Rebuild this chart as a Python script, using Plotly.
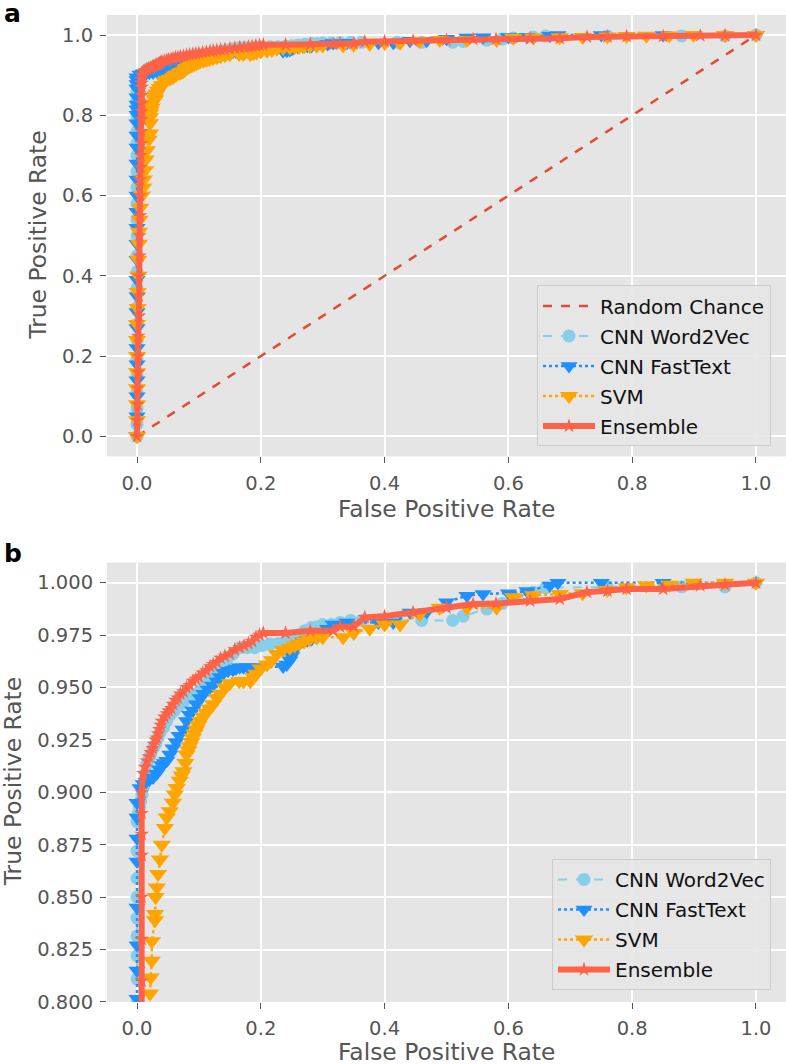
import plotly.graph_objects as go

# ---------------- data ----------------
rc_fpr = [0.0, 1.0]
rc_tpr = [0.0, 1.0]

w2v_points = [(0, 0), (0, 0.03), (0, 0.07), (0, 0.11), (0, 0.15), (0, 0.19), (0, 0.24), (0, 0.28), (0, 0.32),
              (0, 0.37), (0, 0.41), (0, 0.45), (0, 0.50), (0, 0.54), (0, 0.58), (0, 0.62), (0, 0.66), (0, 0.70),
              (0, 0.73), (0, 0.76), (0, 0.79), (0, 0.80), (0, 0.811), (0, 0.822), (0, 0.8315), (0, 0.840),
              (0, 0.850), (0, 0.859), (0, 0.872), (0, 0.886), (0.002, 0.890), (0.004, 0.893), (0.006, 0.896),
              (0.008, 0.899), (0.010, 0.902), (0.012, 0.905), (0.014, 0.909), (0.016, 0.9135), (0.019, 0.916),
              (0.022, 0.918), (0.026, 0.921), (0.030, 0.923), (0.034, 0.926), (0.038, 0.929), (0.043, 0.931),
              (0.048, 0.934), (0.054, 0.937), (0.060, 0.939), (0.067, 0.941), (0.075, 0.943), (0.082, 0.945),
              (0.090, 0.946), (0.096, 0.947), (0.102, 0.9484), (0.108, 0.951), (0.115, 0.953), (0.122, 0.955),
              (0.130, 0.958), (0.138, 0.960), (0.145, 0.9628), (0.155, 0.966), (0.166, 0.969), (0.178, 0.969),
              (0.190, 0.969), (0.202, 0.970), (0.215, 0.9707), (0.228, 0.971), (0.240, 0.972), (0.250, 0.9735),
              (0.260, 0.975), (0.271, 0.977), (0.282, 0.9787), (0.291, 0.979), (0.300, 0.980), (0.314, 0.980),
              (0.328, 0.981), (0.345, 0.982), (0.363, 0.982), (0.420, 0.982), (0.460, 0.982), (0.510, 0.982),
              (0.527, 0.984), (0.565, 0.9874), (0.590, 0.990), (0.608, 0.993), (0.640, 0.9954), (0.660, 0.9975),
              (0.760, 0.998), (0.880, 0.998), (0.950, 0.998), (1.0, 1.0)]

fasttext_points = [(0, 0), (0, 0.05), (0, 0.10), (0, 0.14), (0, 0.18), (0, 0.22), (0, 0.27), (0, 0.31), (0, 0.35),
                   (0, 0.39), (0, 0.44), (0, 0.48), (0, 0.52), (0, 0.56), (0, 0.60), (0, 0.64), (0, 0.68),
                   (0, 0.72), (0, 0.75), (0, 0.78), (0, 0.8015), (0, 0.815), (0, 0.827), (0, 0.845), (0, 0.867),
                   (0, 0.878), (0, 0.888), (0, 0.895), (0.005, 0.902), (0.010, 0.904), (0.015, 0.905),
                   (0.020, 0.906), (0.026, 0.907), (0.032, 0.909), (0.036, 0.911), (0.040, 0.913), (0.044, 0.914),
                   (0.048, 0.915), (0.053, 0.918), (0.058, 0.921), (0.063, 0.924), (0.068, 0.927), (0.074, 0.930),
                   (0.080, 0.934), (0.085, 0.937), (0.090, 0.939), (0.096, 0.942), (0.102, 0.945), (0.108, 0.947),
                   (0.115, 0.949), (0.122, 0.951), (0.129, 0.953), (0.134, 0.955), (0.140, 0.957), (0.147, 0.958),
                   (0.155, 0.9585), (0.160, 0.959), (0.166, 0.9596), (0.172, 0.9596), (0.179, 0.9596),
                   (0.190, 0.9596), (0.200, 0.9596), (0.236, 0.9600), (0.242, 0.961), (0.247, 0.963),
                   (0.250, 0.965), (0.253, 0.9675), (0.260, 0.970), (0.268, 0.972), (0.275, 0.9725), (0.282, 0.973),
                   (0.291, 0.974), (0.300, 0.975), (0.308, 0.978), (0.317, 0.980), (0.339, 0.981), (0.390, 0.981),
                   (0.414, 0.981), (0.441, 0.9858), (0.468, 0.986), (0.500, 0.9906), (0.533, 0.9938),
                   (0.559, 0.9946), (0.600, 0.995), (0.630, 0.996), (0.667, 0.9986), (0.680, 1.0), (0.750, 1.0),
                   (0.850, 1.0), (0.950, 1.0), (1.0, 1.0)]

svm_points = [(0, 0), (0, 0.04), (0, 0.08), (0, 0.12), (0, 0.16), (0, 0.20), (0, 0.24), (0, 0.28), (0.001, 0.32),
              (0.001, 0.36), (0.002, 0.40), (0.002, 0.44), (0.003, 0.48), (0.003, 0.51), (0.004, 0.54),
              (0.005, 0.57), (0.008, 0.60), (0.010, 0.62), (0.011, 0.64), (0.013, 0.663), (0.014, 0.69),
              (0.016, 0.713), (0.019, 0.74), (0.021, 0.755), (0.021, 0.78), (0.021, 0.795), (0.021, 0.804),
              (0.022, 0.8116), (0.0237, 0.8196), (0.024, 0.829), (0.029, 0.839), (0.029, 0.842), (0.030, 0.850),
              (0.032, 0.8546), (0.034, 0.861), (0.037, 0.868), (0.040, 0.875), (0.045, 0.883), (0.048, 0.888),
              (0.053, 0.891), (0.058, 0.895), (0.061, 0.899), (0.064, 0.902), (0.069, 0.9055), (0.072, 0.908),
              (0.075, 0.910), (0.078, 0.914), (0.080, 0.918), (0.083, 0.920), (0.085, 0.922), (0.088, 0.924),
              (0.090, 0.926), (0.093, 0.928), (0.096, 0.930), (0.099, 0.932), (0.102, 0.934), (0.107, 0.936),
              (0.112, 0.938), (0.117, 0.940), (0.123, 0.942), (0.129, 0.945), (0.135, 0.947), (0.142, 0.950),
              (0.150, 0.952), (0.165, 0.953), (0.172, 0.953), (0.183, 0.953), (0.188, 0.955), (0.193, 0.9565),
              (0.200, 0.959), (0.210, 0.961), (0.218, 0.963), (0.226, 0.966), (0.236, 0.968), (0.247, 0.969),
              (0.255, 0.970), (0.262, 0.971), (0.270, 0.972), (0.279, 0.973), (0.290, 0.974), (0.300, 0.974),
              (0.333, 0.974), (0.350, 0.976), (0.376, 0.978), (0.400, 0.980), (0.425, 0.980), (0.457, 0.985),
              (0.489, 0.988), (0.533, 0.988), (0.581, 0.988), (0.608, 0.993), (0.640, 0.994), (0.683, 0.9946),
              (0.720, 0.995), (0.760, 0.9965), (0.791, 0.9978), (0.823, 0.9986), (0.860, 0.999), (0.899, 1.0),
              (0.950, 1.0), (1.0, 1.0)]

ensemble_points = [(0.0, 0.0), (0.0, 0.04), (0.001, 0.08), (0.001, 0.12), (0.002, 0.16), (0.002, 0.20),
                   (0.002, 0.25), (0.003, 0.30), (0.003, 0.35), (0.003, 0.40), (0.004, 0.45), (0.004, 0.50),
                   (0.005, 0.55), (0.005, 0.60), (0.005, 0.64), (0.006, 0.67), (0.006, 0.70), (0.007, 0.73),
                   (0.007, 0.76), (0.0075, 0.79), (0.0075, 0.81), (0.0075, 0.83), (0.0075, 0.85), (0.0075, 0.87),
                   (0.0075, 0.88), (0.0075, 0.89), (0.0075, 0.90), (0.010, 0.909), (0.013, 0.912), (0.016, 0.915),
                   (0.019, 0.917), (0.022, 0.919), (0.025, 0.921), (0.027, 0.923), (0.030, 0.925), (0.032, 0.926),
                   (0.034, 0.928), (0.036, 0.930), (0.038, 0.932), (0.040, 0.934), (0.044, 0.936), (0.048, 0.9375),
                   (0.051, 0.939), (0.055, 0.940), (0.058, 0.942), (0.062, 0.944), (0.066, 0.945), (0.070, 0.947),
                   (0.075, 0.948), (0.080, 0.950), (0.085, 0.951), (0.090, 0.953), (0.095, 0.954), (0.100, 0.955),
                   (0.106, 0.957), (0.112, 0.958), (0.118, 0.960), (0.123, 0.961), (0.129, 0.962), (0.135, 0.964),
                   (0.142, 0.965), (0.150, 0.966), (0.158, 0.968), (0.166, 0.969), (0.173, 0.970), (0.180, 0.971),
                   (0.186, 0.972), (0.192, 0.974), (0.198, 0.975), (0.204, 0.976), (0.240, 0.976), (0.280, 0.977),
                   (0.317, 0.977), (0.328, 0.979), (0.350, 0.979), (0.368, 0.9834), (0.400, 0.984),
                   (0.446, 0.9858), (0.500, 0.988), (0.543, 0.9898), (0.580, 0.990), (0.635, 0.9914),
                   (0.683, 0.9922), (0.727, 0.9954), (0.760, 0.996), (0.791, 0.997), (0.850, 0.997),
                   (0.910, 0.9986), (0.950, 0.999), (1.0, 1.0)]

x_ticks = [0.0, 0.2, 0.4, 0.6, 0.8, 1.0]
ya_ticks = [0.0, 0.2, 0.4, 0.6, 0.8, 1.0]
yb_ticks = [0.800, 0.825, 0.850, 0.875, 0.900, 0.925, 0.950, 0.975, 1.000]

# ---------------- style ----------------
FONT = "DejaVu Sans"
W = 786
H_PIC = 1064          # height of the photographed picture
H_FIG = 1077          # figure height that ends up mapped onto the 1064-px picture
BG = "#E5E5E5"
TXT = "#555555"

models = [
    ("CNN Word2Vec", w2v_points, dict(color="#87CEEB", width=2, dash="dash"), dict(symbol="circle", size=13)),
    ("CNN FastText", fasttext_points, dict(color="#1E90FF", width=2.5, dash="dot"), dict(symbol="triangle-down", size=15)),
    ("SVM", svm_points, dict(color="#FFA500", width=2.5, dash="dot"), dict(symbol="triangle-down", size=16)),
    ("Ensemble", ensemble_points, dict(color="#FF6347", width=6, dash="solid"), dict(symbol="star", size=11)),
]

fig = go.Figure()

fig.add_trace(go.Scatter(x=rc_fpr, y=rc_tpr, mode="lines", name="Random Chance",
                         line=dict(color="#E24A33", width=2.5, dash="dash"),
                         xaxis="x", yaxis="y", legend="legend", legendgroup="a0"))

for panel, (xa, ya, leg) in enumerate([("x", "y", "legend"), ("x2", "y2", "legend2")]):
    for i, (name, pts, line, marker) in enumerate(models):
        pts = sorted(pts)
        fig.add_trace(go.Scatter(
            x=[p[0] for p in pts], y=[p[1] for p in pts], mode="lines+markers", name=name,
            line=line, marker=dict(color=line["color"], line=dict(width=0), **marker),
            xaxis=xa, yaxis=ya, legend=leg, legendgroup=f"{leg}{i}"))

# pixel helpers (positions given in picture pixels)
def px_x(p):
    return p / W

def px_y(p):
    return 1 - p / H_PIC

axis_common = dict(showgrid=True, gridcolor="white", gridwidth=1.8, zeroline=False, showline=False,
                   ticks="outside", ticklen=6, tickwidth=1.2, tickcolor=TXT,
                   tickfont=dict(family=FONT, size=19.5, color=TXT), ticklabelstandoff=3)

leg_common = dict(xanchor="left", yanchor="bottom", bgcolor="rgba(229,229,229,0.9)", bordercolor="#CCCCCC",
                  borderwidth=1, font=dict(family=FONT, size=20, color="#111111"), itemwidth=52,
                  traceorder="grouped", tracegroupgap=1)

fig.update_layout(
    width=W, height=H_FIG, margin=dict(l=0, r=0, t=0, b=0),
    paper_bgcolor="white", plot_bgcolor=BG, showlegend=True,
    xaxis=dict(domain=[px_x(107), 1.0], range=[-0.0485, 1.0485], anchor="y",
               tickvals=x_ticks, tickformat=".1f", **axis_common),
    yaxis=dict(domain=[px_y(456), px_y(15)], range=[-0.05, 1.05], anchor="x",
               tickvals=ya_ticks, tickformat=".1f", **axis_common),
    xaxis2=dict(domain=[px_x(107), 1.0], range=[-0.0485, 1.0485], anchor="y2",
                tickvals=x_ticks, tickformat=".1f", **axis_common),
    yaxis2=dict(domain=[px_y(1001), px_y(562)], range=[0.8, 1.0096], anchor="x2",
                tickvals=yb_ticks, tickformat=".3f", **axis_common),
    legend=dict(x=px_x(537), y=px_y(446), **leg_common),
    legend2=dict(x=px_x(552), y=px_y(989), **leg_common),
)

annos = [
    dict(text="<b>a</b>", x=px_x(2), y=px_y(13), xanchor="left", yanchor="middle", font_size=25, font_color="black"),
    dict(text="<b>b</b>", x=px_x(2), y=px_y(553), xanchor="left", yanchor="middle", font_size=25, font_color="black"),
    dict(text="False Positive Rate", x=px_x(446), y=px_y(509), xanchor="center", yanchor="middle",
         font_size=23.4, font_color=TXT),
    dict(text="False Positive Rate", x=px_x(446), y=px_y(1051), xanchor="center", yanchor="middle",
         font_size=23.4, font_color=TXT),
    dict(text="True Positive Rate", x=px_x(38), y=px_y(235.5), xanchor="center", yanchor="middle",
         textangle=-90, font_size=23.4, font_color=TXT),
    dict(text="True Positive Rate", x=px_x(13), y=px_y(781.5), xanchor="center", yanchor="middle",
         textangle=-90, font_size=23.4, font_color=TXT),
]
for a in annos:
    fs = a.pop("font_size")
    fc = a.pop("font_color")
    fig.add_annotation(xref="paper", yref="paper", showarrow=False,
                       font=dict(family=FONT, size=fs, color=fc), **a)

post = ("document.documentElement.style.margin='0';document.body.style.margin='0';"
        "document.documentElement.style.overflow='hidden';document.body.style.overflow='hidden';")

fig.write_html("out.html", config={"displayModeBar": False}, post_script=post)
